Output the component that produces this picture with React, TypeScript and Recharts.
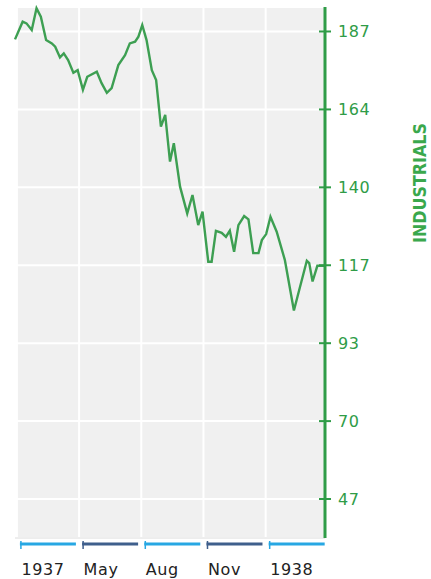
import { LineChart, Line, XAxis, YAxis, CartesianGrid } from "recharts";

// weeks since start of 1937 and the index level
const weeks = [
  0.0, 1.6, 2.4, 3.5, 4.5, 5.4, 6.5, 7.7, 8.4, 9.4, 10.2, 11.1, 12.2, 13.1, 14.2, 15.1,
  17.1, 18.1, 19.2, 20.2, 21.6, 23.0, 24.0, 25.1, 25.8, 26.6, 27.5, 28.6, 29.5, 30.5,
  31.4, 32.4, 33.2, 34.5, 36.0, 37.1, 38.3, 39.2, 40.4, 41.1, 42.0, 43.2, 44.1, 44.9,
  45.8, 46.7, 47.9, 48.8, 49.8, 50.9, 51.6, 52.5, 53.4, 54.7, 56.4, 58.3, 59.6, 61.0,
  61.5, 62.2, 63.2, 64.8,
];
const industrials = [
  184.3, 189.6, 189.1, 187.1, 193.6, 191.1, 184.1, 183.1, 182.1, 178.9, 180.1, 178.1, 174.3,
  175.1, 169.2, 173.1, 174.6, 171.2, 168.3, 169.7, 176.6, 179.6, 183.1, 183.6, 185.1, 188.6,
  184.1, 175.1, 172.1, 158.2, 161.7, 147.7, 153.2, 140.2, 132.2, 137.7, 128.7, 132.7, 117.7,
  117.7, 127.0, 126.4, 125.2, 127.0, 120.7, 128.7, 131.4, 130.4, 120.3, 120.3, 124.2, 126.0,
  131.2, 126.7, 118.3, 103.1, 110.3, 118.0, 117.3, 111.8, 116.5, 116.5,
];
const xTickWeeks = [0.4, 13.4, 26.4, 39.4, 52.4];
const xTickLabels = ["1937", "May", "Aug", "Nov", "1938"];
const yTicks = [46.67, 70, 93.33, 116.67, 140, 163.33, 186.67];
const yTickLabels = ["47", "70", "93", "117", "140", "164", "187"];

const data = weeks.map((w, i) => ({ week: w, value: industrials[i] }));

const GREEN = "#2f9c47";
const FONT = "'DejaVu Sans', sans-serif";

function XTick({ x, y, index }: any) {
  const color = index % 2 === 0 ? "#27a7e3" : "#3f5f8c";
  return (
    <g>
      <line x1={x + 3} x2={x + 59} y1={y + 6} y2={y + 6} stroke={color} strokeWidth={3} />
      <line x1={x + 4} x2={x + 4} y1={y + 3} y2={y + 11} stroke={color} strokeWidth={1.5} />
      <text x={x + 4.5} y={y + 37} fill="#222" fontSize={16} fontFamily={FONT} letterSpacing={0.6}>
        {xTickLabels[index]}
      </text>
    </g>
  );
}

function YTick({ x, y, index }: any) {
  return (
    <g>
      <line x1={x - 6} x2={x + 6} y1={y} y2={y} stroke={GREEN} strokeWidth={2} />
      <text x={x + 13} y={y + 6} fill={GREEN} fontSize={16} fontFamily={FONT} letterSpacing={0.6}>
        {yTickLabels[index]}
      </text>
    </g>
  );
}

function SideLabel() {
  return (
    <text
      x={419}
      y={183}
      transform="rotate(-90 419 183)"
      textAnchor="middle"
      dominantBaseline="central"
      fill="#3aa84c"
      fontSize={18}
      fontWeight="bold"
      fontFamily="'Liberation Sans Narrow', 'DejaVu Sans Condensed', sans-serif"
      textLength={120}
      lengthAdjust="spacingAndGlyphs"
    >
      INDUSTRIALS
    </text>
  );
}

export default function App() {
  return (
    <div style={{ position: "absolute", left: 0, top: 0, background: "#fff" }}>
      <LineChart width={431} height={579} data={data} margin={{ top: 7, right: 0, bottom: 0, left: 15 }}>
        <CartesianGrid stroke="#ffffff" strokeWidth={2} fill="#f0f0f0" />
        <XAxis
          dataKey="week"
          type="number"
          domain={[0, 64.8]}
          ticks={xTickWeeks}
          height={41}
          tickSize={0}
          tickMargin={0}
          tickLine={false}
          axisLine={{ stroke: "#dcdcdc", strokeWidth: 1 }}
          tick={<XTick />}
        />
        <YAxis
          orientation="right"
          domain={[35, 194]}
          ticks={yTicks}
          width={106}
          tickSize={0}
          tickMargin={0}
          tickLine={false}
          axisLine={{ stroke: GREEN, strokeWidth: 3 }}
          tick={<YTick />}
          label={{ content: <SideLabel /> }}
        />
        <Line
          dataKey="value"
          type="linear"
          stroke="#3d9f52"
          strokeWidth={2.4}
          dot={false}
          isAnimationActive={false}
        />
      </LineChart>
    </div>
  );
}
